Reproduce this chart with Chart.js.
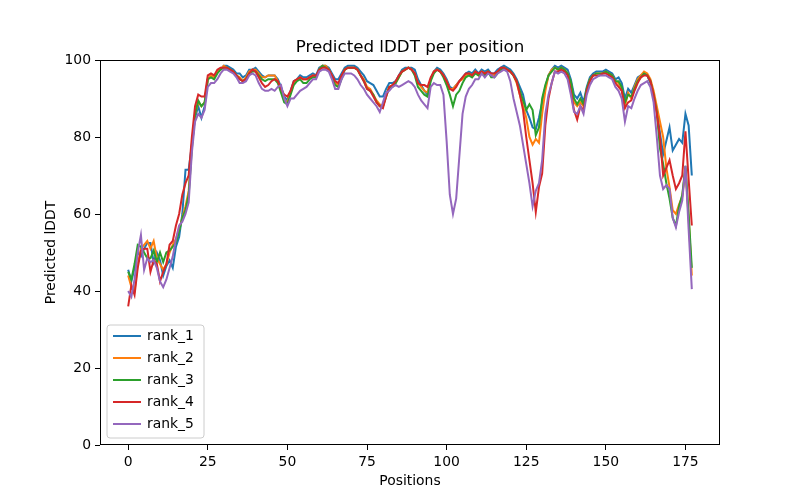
<!DOCTYPE html>
<html>
<head>
<meta charset="utf-8">
<script src="https://cdn.jsdelivr.net/npm/chart.js@4"></script>
<style>
  body { margin: 0; background: #fff; }
  #wrap { width: 800px; height: 500px; }
</style>
</head>
<body>
<div id="wrap"><canvas id="myChart" width="800" height="500"></canvas></div>
<script>
// values, one per position (0..177)
const seriesNames = ['rank_1', 'rank_2', 'rank_3', 'rank_4', 'rank_5'];
const xTicks = [0, 25, 50, 75, 100, 125, 150, 175];
const yTicks = [0, 20, 40, 60, 80, 100];

const rank1 = [
  45.5, 42.5, 46, 50, 49, 51, 52.5, 52.5, 47.5, 50,
  48, 44, 46.5, 48, 46, 51.5, 54, 60, 71.5, 71.5,
  78, 85, 88, 85, 88, 95, 96, 95.5, 97, 97.5,
  98.5, 98.5, 98, 97.5, 96.5, 96.5, 95.5, 96, 97.5, 97.5,
  98, 97, 96, 95.5, 96, 96, 96, 95, 93, 90.5,
  89.5, 92, 94.5, 95, 96, 95.5, 95.5, 96, 96.5, 96,
  98, 98.5, 98.5, 98, 96.5, 95, 95, 96.5, 98, 98.5,
  98.5, 98.5, 98, 97, 96, 94.5, 94, 93.5, 92, 90.5,
  90.5, 92.5, 94, 94, 94.5, 96, 97.5, 98, 98, 98,
  97.5, 95, 93.5, 92, 91, 95, 97, 98, 97.5, 96.5,
  95, 93, 92.5, 93.5, 94.5, 95.5, 96.5, 97, 96.5, 97.5,
  96.5, 97.5, 97, 97.5, 96.5, 96.5, 97.5, 98, 98.5, 98,
  97.5, 96.5, 95, 93, 91, 87, 85, 82.5, 82, 85,
  89, 93, 96, 97.5, 98.5, 98, 98.5, 98, 97.5, 95,
  91, 90, 91.5, 89, 93, 95.5, 96.5, 97, 97, 97,
  97.5, 97, 96.5, 95, 95.5, 94, 90, 92.5, 91.5, 93.5,
  95.5, 96, 96.5, 96, 94, 91, 87, 81, 75.5, 79,
  82.5, 76.5, 78, 79.5, 78.5, 86, 83, 70
];

const rank2 = [
  44, 41, 40, 47, 51, 52, 53, 51, 53, 48.5,
  47, 45.5, 47, 50, 52, 53.5, 56, 59, 62, 66,
  78, 86, 89, 88, 89, 95, 96, 95.5, 97, 97.5,
  98.5, 98, 97.5, 97, 96, 95.5, 94.5, 95.5, 97, 97.5,
  97.5, 96.5, 95.5, 95.5, 96, 96, 96, 94.5, 92, 89.5,
  89, 91.5, 94, 95, 95.5, 95, 95, 95.5, 96, 95.5,
  97.5, 98.5, 98.5, 97.5, 96, 94, 93.5, 95.5, 97.5, 98,
  98, 98, 97.5, 96, 95, 93, 92.5, 91, 89.5, 88.5,
  88, 91, 93, 93.5, 94, 95.5, 97, 97.5, 98, 97.5,
  96.5, 94, 93, 92, 91.5, 95, 97, 97.5, 97, 96,
  94.5, 92.5, 92.5, 93.5, 94.5, 95, 96, 96.5, 96, 97,
  96, 97, 96.5, 97, 96, 96, 97, 97.5, 98, 97.5,
  97, 96, 94, 91, 88, 85, 80, 78, 79.5, 78.5,
  86, 92, 96, 97.5, 98, 97.5, 98, 97.5, 96.5, 94,
  89, 88, 89, 88, 92, 95, 96, 96.5, 96.5, 96.5,
  97, 96.5, 96, 94.5, 94, 92, 88, 91.5, 90, 93,
  95, 96, 97, 96.5, 95, 92, 88, 84, 80, 72,
  67, 61, 60, 62.5, 64.5, 72, 59, 44
];

const rank3 = [
  45, 43, 47, 52, 51.5, 50, 48.5, 48.5, 50.5, 47.5,
  50, 47.5, 50, 50.5, 51.5, 52.5, 55.5, 59, 61, 65,
  77, 86, 89.5, 88, 89, 95, 95.5, 95, 96.5, 97.5,
  98, 98, 97.5, 97, 96, 95, 94.5, 95, 96.5, 97,
  97, 96, 95, 94.5, 95, 95, 95, 94, 91.5, 89,
  88.5, 91, 93.5, 94.5, 95, 94, 94, 95, 95.5, 95.5,
  97.5, 98.5, 98, 97.5, 95.5, 93.5, 93, 95, 97.5, 98,
  98, 98, 97.5, 96, 94.5, 92.5, 92, 91, 89, 88,
  88, 90.5, 93, 93, 94, 95.5, 97, 97.5, 98, 97.5,
  96, 93, 92, 91, 90.5, 94.5, 96.5, 97.5, 97, 95.5,
  93.5, 91, 88, 91, 92, 94, 95.5, 96, 95.5, 96.5,
  96, 96.5, 96, 97, 95.5, 95.5, 96.5, 97.5, 98, 97.5,
  97, 96, 94.5, 92, 89.5, 87, 88.5, 87, 80.5, 82.5,
  90, 93.5, 96, 97, 98, 97.5, 98, 97.5, 96.5, 94.5,
  90, 88.5, 90, 88.5, 92.5, 95, 96, 96.5, 96.5, 96.5,
  97, 96.5, 96, 94.5, 94.5, 93, 89, 91, 90.5, 92.5,
  94.5, 95.5, 96.5, 96, 94.5, 91, 86.5, 77, 73, 68,
  64, 59, 57, 62, 65, 72.5, 60, 46
];

const rank4 = [
  36, 41.5, 39, 46, 50.5, 51, 51, 45, 48, 47,
  42.5, 45, 47, 52, 53, 57, 60, 65, 68, 70,
  80, 88, 91, 90.5, 90.5, 96, 96.5, 96, 97.5, 98,
  98, 98, 97.5, 97, 96, 95, 94.5, 95, 96.5, 97.5,
  97, 95.5, 94, 93, 93.5, 94.5, 95, 94.5, 92.5, 91,
  90.5, 92, 94.5, 95, 95.5, 95, 95, 95.5, 96, 96,
  97.5, 98, 98, 97.5, 96, 94.5, 94, 96, 97.5, 98,
  98, 98, 97.5, 96, 94.5, 92.5, 92, 90.5, 89, 88,
  87.5, 90.5, 93, 93.5, 94.5, 96, 97, 97.5, 98, 97.5,
  96.5, 94, 93.5, 93.5, 93, 95.5, 97, 97.5, 97, 96,
  94.5, 92.5, 92, 93, 94.5, 95.5, 96.5, 96.5, 96, 97,
  96.5, 97, 96.5, 97, 96.5, 96.5, 97, 98, 98, 97.5,
  97, 96, 94.5, 91, 87, 80, 74, 68, 60.5, 67,
  70.5, 83, 90, 94, 97, 97, 97.5, 97, 96, 92,
  87, 84.5, 88, 87, 92, 94.5, 96, 96, 96, 96.5,
  96.5, 96, 95.5, 94, 93, 92, 87.5, 89, 89.5, 92,
  94, 95.5, 96, 96, 94.5, 91, 86, 80, 70, 72,
  74, 70, 66.5, 68, 70, 81.5, 69, 57
];

const rank5 = [
  40, 38.5, 43, 50, 54.5, 45.5, 48.5, 47.5, 48, 46,
  42.5, 41, 43, 46, 49, 53.5, 57, 58, 60, 63,
  76, 84, 86, 85, 87, 93, 94, 94, 95, 96.5,
  97.5, 97.5, 97, 96.5, 95.5, 94, 94, 94.5, 96, 96.5,
  96, 94, 92.5, 92, 92, 92.5, 92, 93, 93.5, 90,
  88, 90, 90, 91, 92, 92.5, 93, 94, 95, 95,
  97, 97.5, 97.5, 97, 95, 92.5, 92.5, 95, 96.5, 96.5,
  96.5, 96, 95, 93.5, 92.5, 91, 90, 89, 88, 86.5,
  89, 91.5, 92, 93, 93.5, 93, 93.5, 94, 94.5, 94,
  93, 91, 89.5, 88.5, 87.5, 93, 94, 93.5, 93.5, 91,
  79, 65, 60, 64, 75, 86, 90.5, 92.5, 93.5, 95,
  95, 96.5, 95.5, 96.5, 96, 95.5, 96.5, 97, 97.5, 97,
  94.5, 90, 86.5, 83, 78, 73, 68, 62, 66, 68,
  74, 86, 91, 94, 97, 96.5, 97, 96.5, 95, 91,
  86.5, 86, 88, 86, 91, 93.5, 95, 95.5, 96, 96,
  96, 95.5, 95, 93, 92, 90, 84, 88, 87.5, 90,
  92, 93.5, 94, 94.5, 93, 89, 80, 70, 66.5, 67.5,
  66.5, 59, 56.5, 60.5, 63.5, 72.5, 56, 40.5
];

const allSeries = [rank1, rank2, rank3, rank4, rank5];
const colors = ['#1f77b4', '#ff7f0e', '#2ca02c', '#d62728', '#9467bd'];
const FONT = '"DejaVu Sans", sans-serif';

// title, axis labels, frame and legend drawn the matplotlib way
const decorations = {
  id: 'decorations',
  afterDraw(chart) {
    const c = chart.ctx;
    const a = chart.chartArea;
    c.save();
    c.strokeStyle = '#000';
    c.lineWidth = 1;
    c.strokeRect(a.left + 0.5, a.top + 0.5, a.right - a.left - 1, a.bottom - a.top - 1);

    c.fillStyle = '#000';
    c.textAlign = 'center';
    c.textBaseline = 'alphabetic';
    c.font = '16.7px ' + FONT;
    c.fillText('Predicted lDDT per position', (a.left + a.right) / 2, 52);

    c.font = '13.9px ' + FONT;
    c.fillText('Positions', (a.left + a.right) / 2, 485);
    c.save();
    c.translate(55, (a.top + a.bottom) / 2);
    c.rotate(-Math.PI / 2);
    c.fillText('Predicted lDDT', 0, 0);
    c.restore();

    // legend box (lower left)
    const bx = 107, by = 325, bw = 97, bh = 113, r = 3;
    c.beginPath();
    c.moveTo(bx + r, by);
    c.lineTo(bx + bw - r, by);
    c.quadraticCurveTo(bx + bw, by, bx + bw, by + r);
    c.lineTo(bx + bw, by + bh - r);
    c.quadraticCurveTo(bx + bw, by + bh, bx + bw - r, by + bh);
    c.lineTo(bx + r, by + bh);
    c.quadraticCurveTo(bx, by + bh, bx, by + bh - r);
    c.lineTo(bx, by + r);
    c.quadraticCurveTo(bx, by, bx + r, by);
    c.closePath();
    c.fillStyle = 'rgba(255,255,255,0.8)';
    c.fill();
    c.strokeStyle = '#cccccc';
    c.stroke();

    c.textAlign = 'left';
    c.textBaseline = 'middle';
    chart.data.datasets.forEach((ds, i) => {
      const y = 336 + 22 * i;
      c.strokeStyle = ds.borderColor;
      c.lineWidth = 2;
      c.beginPath();
      c.moveTo(113, y);
      c.lineTo(141, y);
      c.stroke();
      c.fillStyle = '#000';
      c.fillText(ds.label, 147, y);
    });
    c.restore();
  }
};

const ctx = document.getElementById('myChart');

new Chart(ctx, {
  type: 'line',
  data: {
    datasets: allSeries.map((vals, k) => ({
      label: seriesNames[k],
      data: vals.map((v, i) => ({ x: i, y: v })),
      borderColor: colors[k],
      backgroundColor: colors[k],
      borderWidth: 2,
      pointRadius: 0,
      tension: 0,
      fill: false,
      order: 5 - k
    }))
  },
  options: {
    responsive: false,
    animation: false,
    devicePixelRatio: 1,
    layout: { padding: { left: 0, right: 80, top: 60, bottom: 0 } },
    plugins: {
      legend: { display: false },
      title: { display: false },
      tooltip: { enabled: false }
    },
    scales: {
      x: {
        type: 'linear',
        min: -8.85,
        max: 185.85,
        afterBuildTicks: s => { s.ticks = xTicks.map(v => ({ value: v })); },
        afterFit: s => { s.height = 55; },
        grid: { drawOnChartArea: false, drawTicks: true, tickLength: 5, color: '#000' },
        border: { display: false },
        ticks: { color: '#000', padding: 4, font: { family: FONT, size: 13.9 }, maxRotation: 0 }
      },
      y: {
        min: 0,
        max: 100,
        afterBuildTicks: s => { s.ticks = yTicks.map(v => ({ value: v })); },
        afterFit: s => { s.width = 100; },
        grid: { drawOnChartArea: false, drawTicks: true, tickLength: 5, color: '#000' },
        border: { display: false },
        ticks: { color: '#000', padding: 4, font: { family: FONT, size: 13.9 } }
      }
    }
  },
  plugins: [decorations]
});
</script>
</body>
</html>
